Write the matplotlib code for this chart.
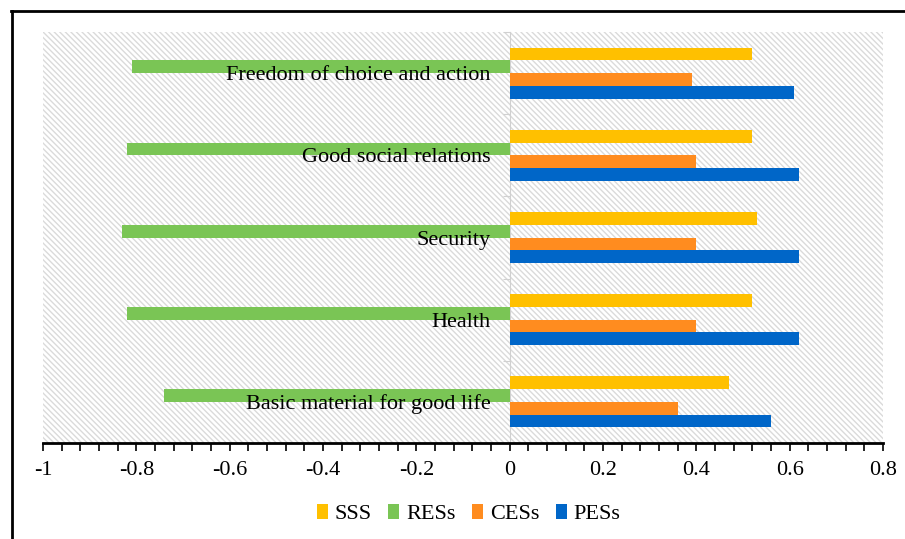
import numpy as np
import matplotlib.pyplot as plt
from matplotlib.patches import Rectangle
from matplotlib.lines import Line2D
from matplotlib.ticker import MultipleLocator

# data (bottom -> top)
categories = ['Basic material for good life', 'Health', 'Security',
              'Good social relations', 'Freedom of choice and action']
series_names = ['SSS', 'RESs', 'CESs', 'PESs']
sss = [0.47, 0.52, 0.53, 0.52, 0.52]
ress = [-0.74, -0.82, -0.83, -0.82, -0.81]
cess = [0.36, 0.40, 0.40, 0.40, 0.39]
pess = [0.56, 0.62, 0.62, 0.62, 0.61]
colors = ['#FFC000', '#7AC555', '#FF8C1F', '#0066C8']

plt.rcParams['font.family'] = ['Liberation Serif', 'DejaVu Serif']
plt.rcParams['hatch.linewidth'] = 1.0

fig = plt.figure(figsize=(9.05, 5.39), dpi=100)
ax = fig.add_axes([0.0475, 0.178, 0.9282, 0.7626])

# hatched background
bg = Rectangle((0, 0), 1, 1, transform=ax.transAxes, facecolor='white',
               edgecolor='#dadada', linewidth=0, hatch='\\\\\\\\\\\\', zorder=0)
ax.add_patch(bg)

y = np.arange(len(categories))
h = 0.155
all_vals = [sss, ress, cess, pess]
offsets = [1.5 * h, 0.5 * h, -0.5 * h, -1.5 * h]
for vals, off, c, name in zip(all_vals, offsets, colors, series_names):
    ax.barh(y + off, vals, height=h, color=c, label=name, zorder=2)

for yi, lab in zip(y, categories):
    ax.text(-0.04, yi - 0.03, lab, ha='right', va='center', fontsize=16, zorder=3)

ax.set_xlim(-1, 0.8)
ax.set_ylim(-0.5, len(categories) - 0.5)

ax.xaxis.set_minor_locator(MultipleLocator(0.04))
ax.set_xticks(np.arange(-1, 0.81, 0.2))
ax.set_xticklabels(['-1', '-0.8', '-0.6', '-0.4', '-0.2', '0', '0.2', '0.4', '0.6', '0.8'])
ax.tick_params(axis='x', which='both', direction='out', length=6, width=1.2,
               colors='black', labelsize=16, pad=7)

# y axis at zero
ax.spines['left'].set_position(('data', 0))
ax.spines['left'].set_color('#d0d0d0')
ax.spines['left'].set_zorder(1)
ax.set_yticks(np.arange(-0.5, len(categories), 1.0))
ax.set_yticklabels([])
ax.tick_params(axis='y', direction='out', length=5, color='#d0d0d0')

ax.spines['bottom'].set_linewidth(2)
ax.spines['top'].set_visible(False)
ax.spines['right'].set_visible(False)

ax.legend(loc='center', bbox_to_anchor=(0.5177, 0.046), bbox_transform=fig.transFigure,
          ncol=4, frameon=False, fontsize=16, handlelength=0.5, handleheight=0.7,
          handletextpad=0.3, columnspacing=0.75)

# outer frame (left and top only visible)
fig.add_artist(Line2D([0.0133, 0.0133], [0.0, 0.98], color='black', lw=2,
                      transform=fig.transFigure))
fig.add_artist(Line2D([0.0122, 1.0], [0.9796, 0.9796], color='black', lw=2,
                      transform=fig.transFigure))

fig.savefig('out.png', dpi=100)
